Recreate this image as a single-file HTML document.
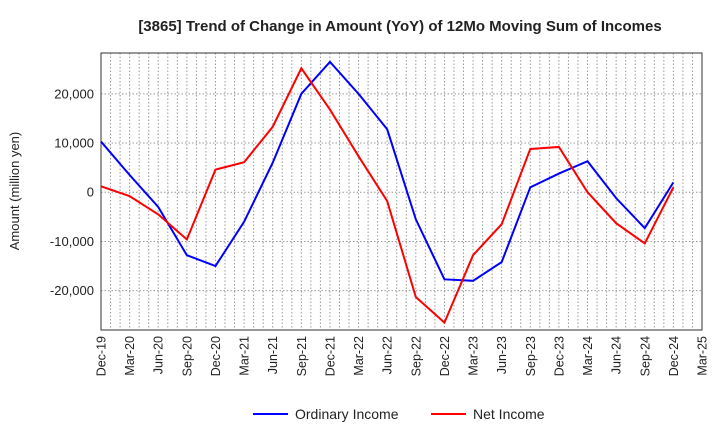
<!DOCTYPE html>
<html><head><meta charset="utf-8"><style>
body{margin:0;background:#fff;font-family:"Liberation Sans",sans-serif}
</style></head><body>
<svg id="c" width="720" height="440" xmlns="http://www.w3.org/2000/svg"></svg>
<script>
const categories=["Dec-19","Mar-20","Jun-20","Sep-20","Dec-20","Mar-21","Jun-21","Sep-21","Dec-21","Mar-22","Jun-22","Sep-22","Dec-22","Mar-23","Jun-23","Sep-23","Dec-23","Mar-24","Jun-24","Sep-24","Dec-24","Mar-25"];
const ordinaryIncome=[10300,3500,-3000,-12800,-15000,-6000,6000,20000,26500,20000,12800,-5500,-17700,-18000,-14200,1000,3800,6300,-1200,-7300,2000];
const netIncome=[1200,-800,-4500,-9600,4600,6100,13300,25200,16800,7300,-1800,-21300,-26500,-12800,-6500,8800,9200,0,-6300,-10400,1000];
const yTicks=[-20000,-10000,0,10000,20000];
const yTickLabels=["-20,000","-10,000","0","10,000","20,000"];

const svg=document.getElementById('c');const NS="http://www.w3.org/2000/svg";
const L=101,R=702,T=53,B=330,yMax=28300,yMin=-28000;
const x=i=>L+(R-L)*i/(categories.length-1);
const y=v=>T+(yMax-v)/(yMax-yMin)*(B-T);
function mk(t,a,p){const e=document.createElementNS(NS,t);for(const k in a)e.setAttribute(k,a[k]);(p||svg).appendChild(e);return e;}
const title=mk('text',{x:400,y:31,'text-anchor':'middle','font-size':15,'font-weight':'bold',fill:'#222'});


title.textContent="[3865]  Trend of Change in Amount (YoY) of 12Mo Moving Sum of Incomes";
const grid=mk('g',{});


for(let m=1;m<(categories.length-1)*3;m++){const xx=L+(R-L)*m/((categories.length-1)*3);mk('line',{x1:xx,x2:xx,y1:T,y2:B,stroke:'#999','stroke-dasharray':'1.5,2','stroke-width':1},grid);}
yTicks.forEach((v,i)=>{mk('line',{x1:L,x2:R,y1:y(v),y2:y(v),stroke:'#999','stroke-dasharray':'1.5,2'},grid);
const t=mk('text',{x:L-7,y:y(v)+4.5,'text-anchor':'end','font-size':13,fill:'#222'});


t.textContent=yTickLabels[i];});
const frame=mk('rect',{x:L,y:T,width:R-L,height:B-T,fill:'none',stroke:'#333','stroke-width':1});


categories.forEach((c,i)=>{const t=mk('text',{transform:`translate(${x(i)+4.5},${B+6}) rotate(-90)`,'text-anchor':'end','font-size':12.5,fill:'#222'});


t.textContent=c;});
const yt=mk('text',{transform:'translate(19,191) rotate(-90)','text-anchor':'middle','font-size':13,fill:'#222'});


yt.textContent="Amount (million yen)";
function series(d,col,name){const p=mk('polyline',{points:d.map((v,i)=>x(i)+','+y(v)).join(' '),fill:'none',stroke:col,'stroke-width':2});

}
series(ordinaryIncome,'#0000ff','ordinary-income-line');
series(netIncome,'#ff0000','net-income-line');
function leg(x0,col,label,name){const g=mk('g',{});


mk('line',{x1:x0,x2:x0+35,y1:414,y2:414,stroke:col,'stroke-width':2},g);
const t=mk('text',{x:x0+42,y:419,'font-size':14,fill:'#222'},g);t.textContent=label;}
leg(253,'#0000ff','Ordinary Income','legend-ordinary-income');
leg(431,'#ff0000','Net Income','legend-net-income');
</script>
</body></html>
